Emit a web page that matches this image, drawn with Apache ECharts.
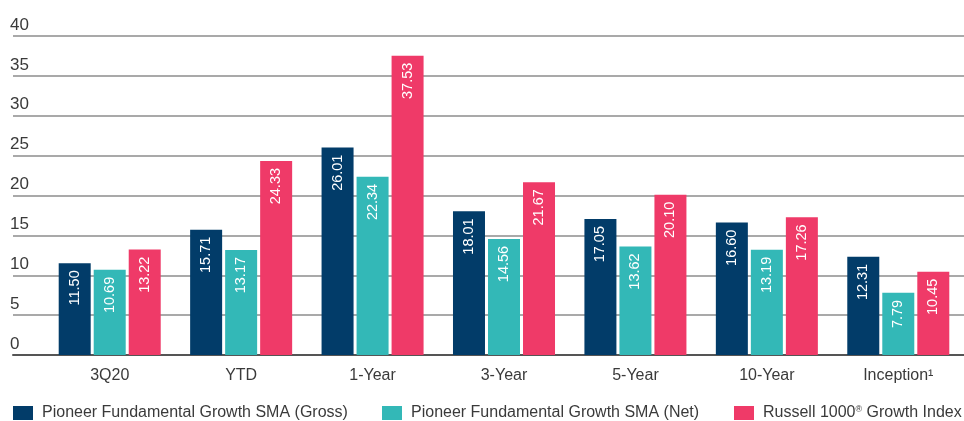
<!DOCTYPE html>
<html>
<head>
<meta charset="utf-8">
<script src="https://cdn.jsdelivr.net/npm/echarts@6/dist/echarts.min.js"></script>
<style>
html,body{margin:0;padding:0;background:#fff;}
#c{width:964px;height:421px;}
</style>
</head>
<body>
<div id="c"></div>
<script>
const categories = ['3Q20', 'YTD', '1-Year', '3-Year', '5-Year', '10-Year', 'Inception\u00B9'];
const grossValues = [11.50, 15.71, 26.01, 18.01, 17.05, 16.60, 12.31];
const netValues = [10.69, 13.17, 22.34, 14.56, 13.62, 13.19, 7.79];
const russellValues = [13.22, 24.33, 37.53, 21.67, 20.10, 17.26, 10.45];
const seriesNames = ['Pioneer Fundamental Growth SMA (Gross)', 'Pioneer Fundamental Growth SMA (Net)', 'Russell 1000\u00AE Growth Index'];
const yTicks = [0, 5, 10, 15, 20, 25, 30, 35, 40];

const FONT = '"Liberation Sans", Arial, sans-serif';
const colors = ['#023c69', '#33b8b7', '#ef3a68'];

const chart = echarts.init(document.getElementById('c'));

const valueLabel = {
  show: true,
  position: 'insideTop',
  rotate: 90,
  align: 'right',
  verticalAlign: 'middle',
  distance: 7,
  color: '#ffffff',
  fontFamily: FONT,
  fontSize: 14.5,
  formatter: p => p.value.toFixed(2)
};

function legendFor(i, left) {
  return {
    left: left,
    top: 405,
    padding: 0,
    itemWidth: 20,
    itemHeight: 14,
    itemGap: 0,
    icon: 'rect',
    data: [seriesNames[i]],
    formatter: n => n.replace('\u00AE', '{sup|\u00AE}'),
    textStyle: {
      fontFamily: FONT,
      fontSize: 16,
      color: '#3a3a3a',
      padding: [0, 0, 0, 4],
      rich: { sup: { fontSize: 9, verticalAlign: 'top', padding: [0, 0, 7, 0], fontFamily: FONT, color: '#3a3a3a' } }
    }
  };
}

chart.setOption({
  animation: false,
  grid: [
    { left: 13, right: 0, top: 36, bottom: 66 },
    { left: 44, right: -1, top: 36, bottom: 66 }
  ],
  legend: [legendFor(0, 13), legendFor(1, 382), legendFor(2, 734)],
  xAxis: [
    {
      gridIndex: 0, type: 'value', min: 0, max: 1,
      axisLine: { show: true, lineStyle: { color: '#555', width: 2 } },
      axisTick: { show: false }, axisLabel: { show: false }, splitLine: { show: false }
    },
    {
      gridIndex: 1, type: 'category', data: categories,
      axisLine: { show: false }, axisTick: { show: false },
      axisLabel: { margin: 13, fontFamily: FONT, fontSize: 16, color: '#3a3a3a' }
    }
  ],
  yAxis: [
    {
      gridIndex: 0, type: 'value', min: 0, max: 40, interval: 5,
      axisLine: { show: false }, axisTick: { show: false },
      axisLabel: {
        align: 'left', margin: 3, verticalAlign: 'bottom', lineHeight: 16, padding: [0, 0, 3, 0],
        fontFamily: FONT, fontSize: 17, color: '#3a3a3a',
        formatter: v => yTicks.includes(v) ? String(v) : ''
      },
      splitLine: { lineStyle: { color: '#8c8c8c', width: 1.5 } }
    },
    { gridIndex: 1, type: 'value', min: 0, max: 40, show: false }
  ],
  series: [
    { name: seriesNames[0], type: 'bar', xAxisIndex: 1, yAxisIndex: 1, data: grossValues, barWidth: 32, barGap: '9.4%', itemStyle: { color: colors[0] }, label: valueLabel },
    { name: seriesNames[1], type: 'bar', xAxisIndex: 1, yAxisIndex: 1, data: netValues, barWidth: 32, barGap: '9.4%', itemStyle: { color: colors[1] }, label: valueLabel },
    { name: seriesNames[2], type: 'bar', xAxisIndex: 1, yAxisIndex: 1, data: russellValues, barWidth: 32, barGap: '9.4%', itemStyle: { color: colors[2] }, label: valueLabel }
  ]
});
</script>
</body>
</html>
